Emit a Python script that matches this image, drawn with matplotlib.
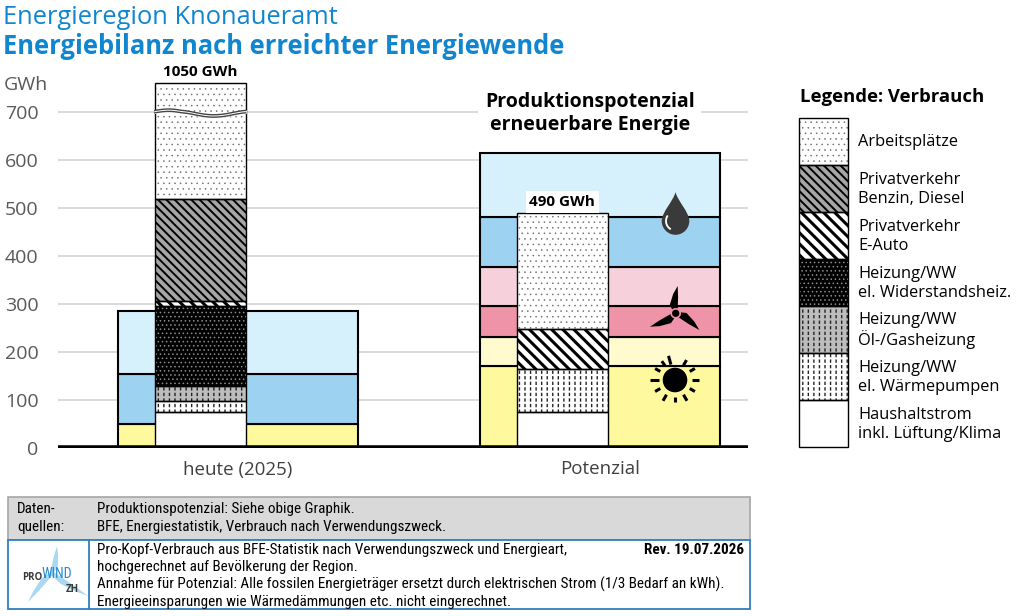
import numpy as np
import matplotlib
matplotlib.use("Agg")
import matplotlib.pyplot as plt
from matplotlib import font_manager
from matplotlib.patches import Rectangle, Polygon, Circle, PathPatch
from matplotlib.path import Path

# ── Data ──────────────────────────────────────────────────────────────────────

categories = ["heute (2025)", "Potenzial"]
y_ticks = [0, 100, 200, 300, 400, 500, 600, 700]

# Produktion, gestapelt von unten nach oben (GWh)
prod_heute = [50, 105, 130]
prod_heute_colors = ["#fff99e", "#9dd3f1", "#d6f0fc"]
prod_potenzial = [170, 60, 65, 82, 103, 133]
prod_potenzial_colors = ["#fff99e", "#fffbce", "#ee93a8", "#f6d0da", "#9dd3f1", "#d6f0fc"]

# Verbrauch, gestapelt von unten nach oben (GWh)
verbrauch_labels = [
    "Haushaltstrom\ninkl. Lüftung/Klima",
    "Heizung/WW\nel. Wärmepumpen",
    "Heizung/WW\nÖl-/Gasheizung",
    "Heizung/WW\nel. Widerstandsheiz.",
    "Privatverkehr\nE-Auto",
    "Privatverkehr\nBenzin, Diesel",
    "Arbeitsplätze",
]
verbrauch_heute = [75, 23, 32, 165, 10, 214, 531]
verbrauch_potenzial = [75, 90, 0, 0, 83, 0, 242]
total_labels = ["1050 GWh", "490 GWh"]

footer_quellen = ["Produktionspotenzial: Siehe obige Graphik.",
                  "BFE, Energiestatistik, Verbrauch nach Verwendungszweck."]
footer_notes = ["Pro-Kopf-Verbrauch aus BFE-Statistik nach Verwendungszweck und Energieart,",
                "hochgerechnet auf Bevölkerung der Region.",
                "Annahme für Potenzial: Alle fossilen Energieträger ersetzt durch elektrischen Strom (1/3 Bedarf an kWh).",
                "Energieeinsparungen wie Wärmedämmungen etc. nicht eingerechnet."]
revision = "Rev. 19.07.2026"

# ── Styles ────────────────────────────────────────────────────────────────────

BLUE = "#0f86cf"
BREAK_AT = 700      # axis is broken here
SHOWN_TOP = 760     # drawn height of the broken bar

# facecolor, hatch, hatch colour, hatch linewidth, dash-overlay colour
STYLES = [
    ("white", None, "black", 1.0, None),
    ("white", "|||", "#222222", 1.0, "white"),
    ("#bdbdbd", "|||", "#222222", 1.0, "#bdbdbd"),
    ("black", "....", "#8c8c8c", 0.6, None),
    ("white", "\\\\\\", "black", 2.2, None),
    ("#a6a6a6", "\\\\\\\\", "black", 1.4, None),
    ("white", "...", "#6a6a6a", 0.35, None),
]


def pick_font(names):
    for n in names:
        try:
            font_manager.findfont(n, fallback_to_default=False)
            return n
        except Exception:
            pass
    return "DejaVu Sans"


MAIN_FONT = pick_font(["Open Sans", "Noto Sans", "DejaVu Sans"])
NARROW_FONT = pick_font(["Liberation Sans Narrow", "Roboto Condensed", "Open Sans"])
FOOT_SIZE = 9.1 if NARROW_FONT == "Open Sans" else 10.9
plt.rcParams["font.family"] = [MAIN_FONT, "DejaVu Sans"]


def set_hlw(patch, lw):
    if hasattr(patch, "set_hatch_linewidth"):
        patch.set_hatch_linewidth(lw)
    else:
        patch._hatch_linewidth = lw


def styled_bar(ax, x, w, bottom, height, style, z):
    fc, hatch, hc, hlw, dash = style
    bars = ax.bar(x, height, w, bottom=bottom, color=fc, hatch=hatch,
                  edgecolor=hc, linewidth=0, zorder=z)
    for p in bars:
        set_hlw(p, hlw)
    if dash:
        bars = ax.bar(x, height, w, bottom=bottom, color="none", hatch="---",
                      edgecolor=dash, linewidth=0, zorder=z + 0.05)
        for p in bars:
            set_hlw(p, 1.6)
    ax.bar(x, height, w, bottom=bottom, fill=False, edgecolor="black",
           linewidth=1.0, zorder=z + 0.1)


def styled_rect(ax, x, y, w, h, style, z):
    fc, hatch, hc, hlw, dash = style
    p = Rectangle((x, y), w, h, facecolor=fc, hatch=hatch, edgecolor=hc,
                  linewidth=0, zorder=z)
    set_hlw(p, hlw)
    ax.add_patch(p)
    if dash:
        p = Rectangle((x, y), w, h, facecolor="none", hatch="---",
                      edgecolor=dash, linewidth=0, zorder=z + 0.05)
        set_hlw(p, 1.6)
        ax.add_patch(p)
    ax.add_patch(Rectangle((x, y), w, h, fill=False, edgecolor="black",
                           linewidth=1.0, zorder=z + 0.1))


def blade(center, tip_pt, width, side=1):
    c = np.asarray(center, dtype=float)
    d = np.asarray(tip_pt, dtype=float) - c
    L = np.hypot(*d)
    d = d / L
    n = np.array([-d[1], d[0]]) * side
    return [c + 1.8 * n, c + 0.3 * L * d + width * n, c + 0.7 * L * d + 0.6 * width * n,
            c + L * d, c + 0.6 * L * d - 1.2 * n, c - 1.8 * n]


# ── Figure ────────────────────────────────────────────────────────────────────

fig = plt.figure(figsize=(10.24, 6.16), dpi=100)
ax = fig.add_axes([58 / 1024, 1 - 448 / 616, 690 / 1024, 384.4 / 616])

x_pos = np.arange(len(categories))
outer_w = 0.663
inner_w = 0.251
inner_off = -0.104

ax.set_xlim(-0.497, 1.409)
ax.set_ylim(0, 800)

# production blocks
for xi, vals, cols in [(0, prod_heute, prod_heute_colors),
                       (1, prod_potenzial, prod_potenzial_colors)]:
    bottom = 0
    for v, c in zip(vals, cols):
        ax.bar(xi, v, outer_w, bottom=bottom, color=c, edgecolor="black",
               linewidth=1.5, zorder=2)
        bottom += v

# consumption blocks
for xi, vals in [(0, verbrauch_heute), (1, verbrauch_potenzial)]:
    bottom = 0
    for v, st in zip(vals, STYLES):
        if v <= 0:
            continue
        top = bottom + v
        shown = min(top, SHOWN_TOP) if top > BREAK_AT else top
        styled_bar(ax, xi + inner_off, inner_w, bottom, shown - bottom, st, 3)
        bottom = top

# axis break on the tall bar
xb = np.linspace(inner_off - inner_w / 2, inner_off + inner_w / 2, 60)
t = (xb - xb[0]) / (xb[-1] - xb[0])
wave = BREAK_AT - 9 * np.sin(np.pi * np.clip((t - 0.3) / 0.7, 0, 1)) ** 1.5 * (t > 0.3) \
    + 3 * np.sin(np.pi * np.clip(t / 0.3, 0, 1)) * (t <= 0.3)
ax.fill_between(xb, wave - 2.5, wave + 2.5, color="white", zorder=4)
ax.plot(xb, wave - 2.5, color="#444444", lw=1.0, zorder=4.1)
ax.plot(xb, wave + 2.5, color="#444444", lw=1.0, zorder=4.1)

# totals
ax.text(x_pos[0] + inner_off, 783, total_labels[0], ha="center", va="center",
        fontsize=11, fontweight="bold", zorder=6)
ax.text(x_pos[1] + inner_off, 512, total_labels[1], ha="center", va="center",
        fontsize=11, fontweight="bold", zorder=6,
        bbox=dict(facecolor="white", edgecolor="none", boxstyle="square,pad=0.25"))

ax.text(0.972, 696, "Produktionspotenzial\nerneuerbare Energie", ha="center",
        va="center", fontsize=14, fontweight="bold", linespacing=1.2, zorder=6,
        bbox=dict(facecolor="white", edgecolor="none", boxstyle="square,pad=0.35"))

# axes cosmetics
for s in ax.spines.values():
    s.set_visible(False)
ax.set_yticks(y_ticks)
ax.set_yticklabels([str(v) for v in y_ticks], fontsize=14, color="#595959")
ax.set_xticks(x_pos)
ax.set_xticklabels(categories, fontsize=13.5, color="#404040")
ax.tick_params(axis="y", length=0, pad=14)
ax.tick_params(axis="x", length=0, pad=9)
ax.yaxis.grid(True, color="#d9d9d9", linewidth=1.4, zorder=0)
ax.set_axisbelow(True)
ax.axhline(0, color="black", linewidth=4, zorder=5)

# ── Overlay (pixel coordinates) ───────────────────────────────────────────────

ov = fig.add_axes([0, 0, 1, 1], zorder=10)
ov.set_xlim(0, 1024)
ov.set_ylim(616, 0)
ov.axis("off")
ov.patch.set_alpha(0)

ov.text(3, 17, "Energieregion Knonaueramt", color=BLUE, fontsize=18.4,
        va="center", ha="left")
ov.text(3, 47, "Energiebilanz nach erreichter Energiewende", color=BLUE,
        fontsize=18.4, fontweight="bold", va="center", ha="left")
ov.text(4, 85, "GWh", color="#595959", fontsize=14, va="center", ha="left")

# oil drop
cx, cy, r = 675.5, 221.0, 13.8
tip = (cx, cy - 29)
verts = [tip, (cx - 2, cy - 20), (cx - r, cy - 9), (cx - r, cy),
         (cx - r, cy + 0.55 * r), (cx - 0.55 * r, cy + r), (cx, cy + r),
         (cx + 0.55 * r, cy + r), (cx + r, cy + 0.55 * r), (cx + r, cy),
         (cx + r, cy - 9), (cx + 2, cy - 20), tip, tip]
codes = [Path.MOVETO] + [Path.CURVE4] * 12 + [Path.CLOSEPOLY]
ov.add_patch(PathPatch(Path(verts, codes), facecolor="#3a3a3a", edgecolor="none"))
ang = np.deg2rad(np.linspace(150, 235, 20))
ov.plot(cx + 9.5 * np.cos(ang), cy - 9.5 * np.sin(ang), color="white", lw=1.3)

# wind turbine
hub = (675.7, 313.3)
for tip_pt in [(677.7, 286.0), (650.0, 326.7), (699.3, 330.0)]:
    ov.add_patch(Polygon(blade(hub, tip_pt, 6.5, -1), closed=True,
                         facecolor="black", edgecolor="none"))
ov.add_patch(Circle(hub, 4.5, facecolor="black", edgecolor=(0.93, 0.58, 0.66), lw=1.2))

# sun
sc = (675, 380)
ov.add_patch(Circle(sc, 12.3, facecolor="black", edgecolor="none"))
for a, r1, r2 in [(0, 17, 24), (30, 17, 23), (60, 17, 23), (105, 16, 25),
                  (125, 17, 23), (150, 17, 23), (180, 16, 25), (210, 17, 23),
                  (240, 17, 24), (270, 17, 22), (300, 17, 24), (330, 17, 23)]:
    ar = np.deg2rad(a)
    ov.plot([sc[0] + r1 * np.cos(ar), sc[0] + r2 * np.cos(ar)],
            [sc[1] - r1 * np.sin(ar), sc[1] - r2 * np.sin(ar)],
            color="black", lw=2.2, solid_capstyle="butt")

# legend
ov.text(800, 97, "Legende: Verbrauch", fontsize=13.3, fontweight="bold",
        va="center", ha="left")
box_top, box_h = 118, 47
for i, idx in enumerate(range(len(verbrauch_labels) - 1, -1, -1)):
    y0 = box_top + i * box_h
    styled_rect(ov, 799, y0, 49, box_h, STYLES[idx], 3)
    ov.text(858, y0 + box_h / 2 + 1, verbrauch_labels[idx], fontsize=11.8,
            va="center", ha="left", linespacing=1.2)

# footer
ov.add_patch(Rectangle((8, 497), 742, 43, facecolor="#d9d9d9",
                       edgecolor="#a6a6a6", lw=1.2, zorder=1))
ov.add_patch(Rectangle((8, 540), 742, 69, facecolor="white",
                       edgecolor="#2f7fc1", lw=1.3, zorder=1))
ov.plot([89, 89], [540, 609], color="#2f7fc1", lw=1.3, zorder=2)
ov.text(17, 509, "Daten-", fontsize=FOOT_SIZE, family=NARROW_FONT, va="center")
ov.text(17, 527, "quellen:", fontsize=FOOT_SIZE, family=NARROW_FONT, va="center")
for k, line in enumerate(footer_quellen):
    ov.text(97, 509 + 18 * k, line, fontsize=FOOT_SIZE, family=NARROW_FONT, va="center")
for k, line in enumerate(footer_notes):
    ov.text(97, 550 + 17.3 * k, line, fontsize=FOOT_SIZE, family=NARROW_FONT, va="center")
ov.text(744, 550, revision, fontsize=FOOT_SIZE, family=NARROW_FONT, fontweight="bold",
        ha="right", va="center")

# logo
lc = (52.0, 573.0)
for tip_pt in [(57, 546), (28, 602), (88, 596)]:
    ov.add_patch(Polygon(blade(lc, tip_pt, 4.5), closed=True, facecolor="#a9d8f0",
                         edgecolor="none", zorder=3))
ov.text(42, 578, "PRO", fontsize=7, fontweight="bold", color="#3a3a3a",
        ha="right", va="center", zorder=4)
ov.text(42, 574, "WIND", fontsize=10, color="#1a8ad4", ha="left", va="center",
        family=NARROW_FONT, zorder=4)
ov.text(72, 589, "ZH", fontsize=7, fontweight="bold", color="#3a3a3a",
        ha="center", va="center", zorder=4)

fig.savefig("out.png", dpi=100)
